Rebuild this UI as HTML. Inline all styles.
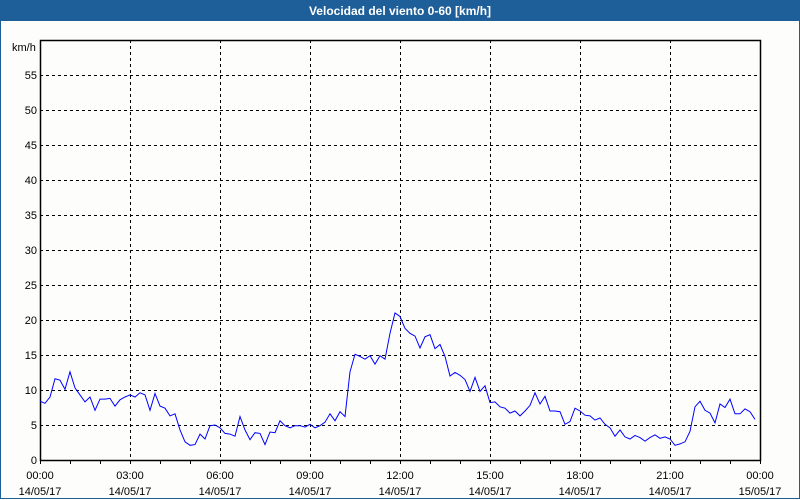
<!DOCTYPE html>
<html><head><meta charset="utf-8"><style>
html,body{margin:0;padding:0;width:800px;height:500px;overflow:hidden;background:#fdfefc;}
#win{position:absolute;left:0;top:0;width:798px;height:498px;border:1px solid #1f5f99;border-top:none;background:#fdfefc;}
#title{position:absolute;left:0;top:0;width:800px;height:21px;background:#1f5f99;color:#fff;font:bold 12px "Liberation Sans",sans-serif;text-align:center;line-height:22px;}
svg{position:absolute;left:0;top:0;}
text{font-family:"Liberation Sans",sans-serif;font-size:11px;fill:#000;}
</style></head><body>
<div id="win"></div>
<div id="title">Velocidad del viento 0-60 [km/h]</div>
<svg id="chart" width="800" height="500"></svg>
<script>
const yTicks=[0,5,10,15,20,25,30,35,40,45,50,55];
const xTickHours=[0,3,6,9,12,15,18,21,24];
const xTimeLabels=["00:00","03:00","06:00","09:00","12:00","15:00","18:00","21:00","00:00"];
const xDateLabels=["14/05/17","14/05/17","14/05/17","14/05/17","14/05/17","14/05/17","14/05/17","14/05/17","15/05/17"];
const windSpeed=[8.4,8.1,9.0,11.6,11.4,10.1,12.6,10.3,9.3,8.3,9.0,7.1,8.7,8.7,8.8,7.7,8.6,9.0,9.3,9.0,9.6,9.3,7.1,9.5,7.7,7.4,6.3,6.6,4.3,2.6,2.1,2.2,3.7,3.0,4.9,5.0,4.6,3.8,3.7,3.4,6.2,4.3,2.9,3.9,3.8,2.2,4.0,3.9,5.6,4.9,4.6,4.9,4.9,4.7,5.1,4.6,4.9,5.4,6.6,5.6,6.9,6.2,12.6,15.1,14.8,14.4,14.9,13.7,14.9,14.4,18.1,21.0,20.5,18.8,18.1,17.7,16.0,17.6,17.9,15.9,16.5,14.8,12.0,12.5,12.1,11.5,9.8,11.8,9.8,10.6,8.2,8.3,7.6,7.4,6.7,7.0,6.3,7.0,7.8,9.6,8.0,9.1,7.0,7.0,6.9,5.1,5.5,7.4,7.0,6.4,6.3,5.7,6.0,5.1,4.6,3.4,4.3,3.3,3.0,3.5,3.2,2.7,3.2,3.6,3.1,3.3,3.0,2.1,2.3,2.6,4.1,7.6,8.4,7.1,6.7,5.3,8.0,7.5,8.7,6.6,6.6,7.3,6.9,5.8];
const stepMinutes=10;
const L=40,R=760,T=40,B=460,YMAX=60,HMAX=24;
const xs=h=>L+(R-L)*h/HMAX;
const ys=v=>B-(B-T)*v/YMAX;
const svg=document.getElementById('chart');
const NS='http://www.w3.org/2000/svg';
function mk(tag,attrs){const e=document.createElementNS(NS,tag);for(const k in attrs)e.setAttribute(k,attrs[k]);svg.appendChild(e);return e;}
// horizontal grid + y labels
yTicks.forEach(v=>{
  if(v>0){const g=mk('line',{x1:L,x2:R,y1:ys(v)+0.5,y2:ys(v)+0.5,stroke:'#000','stroke-dasharray':'3,3','stroke-width':1});
  
  }
  const t=mk('text',{x:37,y:ys(v)+4,'text-anchor':'end'});t.textContent=v;
  
  
});
// vertical grid
xTickHours.forEach((h,i)=>{
  if(h>0&&h<HMAX){const g=mk('line',{x1:xs(h)+0.5,x2:xs(h)+0.5,y1:T,y2:B,stroke:'#000','stroke-dasharray':'3,3','stroke-width':1});
  
  }
  const t1=mk('text',{x:xs(h),y:479,'text-anchor':'middle'});t1.textContent=xTimeLabels[i];
  
  
  const t2=mk('text',{x:xs(h),y:495,'text-anchor':'middle'});t2.textContent=xDateLabels[i];
  
  
});
for(let h=0;h<=HMAX;h++){const k=mk('line',{x1:xs(h)+0.5,x2:xs(h)+0.5,y1:B,y2:B+4,stroke:'#000'});
  
  }
// frame
const f=mk('rect',{x:L+0.5,y:T+0.5,width:R-L,height:B-T,fill:'none',stroke:'#000','stroke-width':1.5});


const u=mk('text',{x:12,y:51});u.textContent='km/h';


// series
const pts=windSpeed.map((v,i)=>xs(i*stepMinutes/60).toFixed(1)+','+ys(v).toFixed(1)).join(' ');
const pl=mk('polyline',{points:pts,fill:'none',stroke:'#0000ff','stroke-width':1});


</script>
</body></html>
